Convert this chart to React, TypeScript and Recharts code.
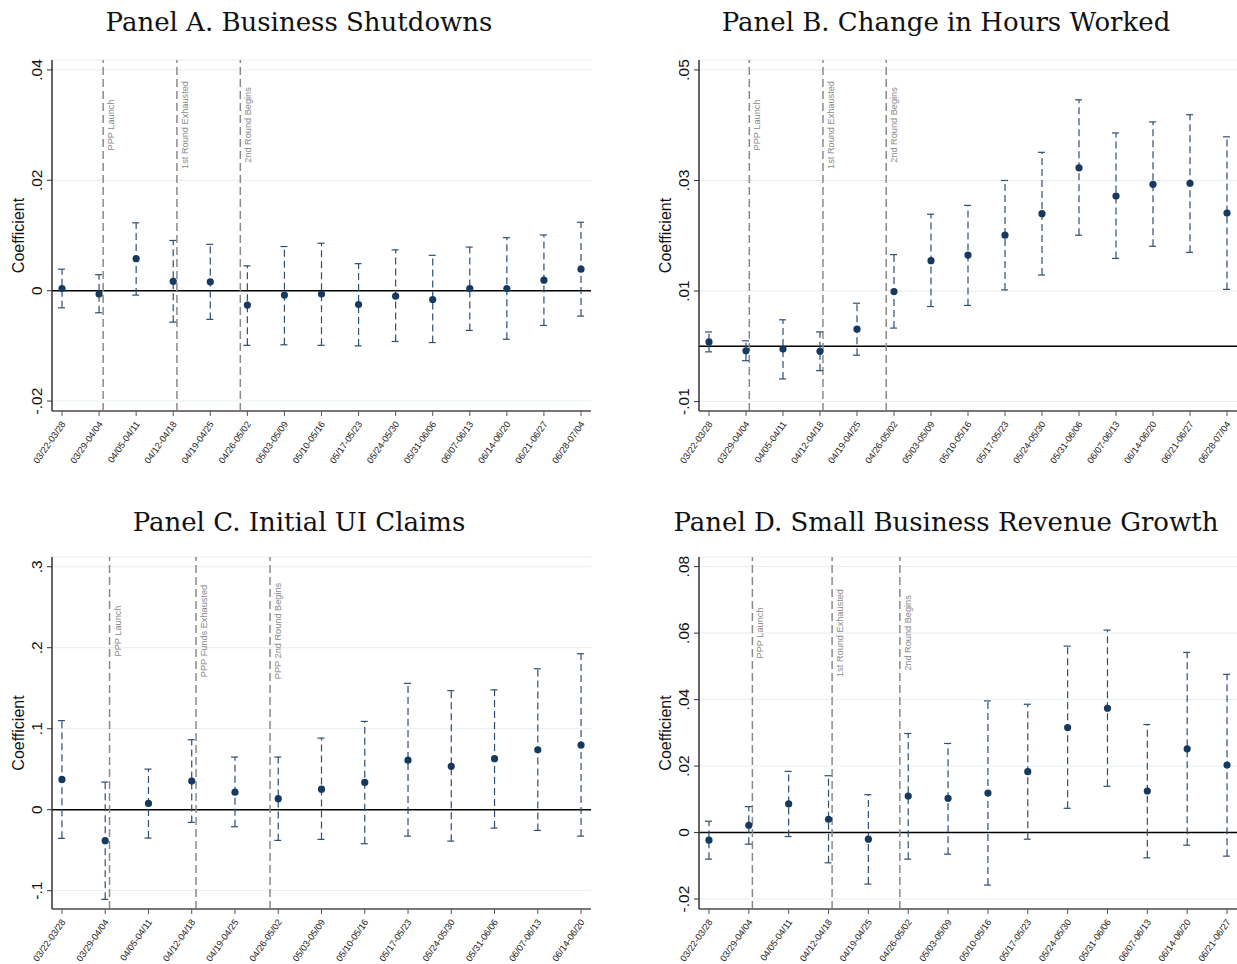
import React from "react";
import {
  ComposedChart,
  Scatter,
  ErrorBar,
  XAxis,
  YAxis,
  CartesianGrid,
  ReferenceLine
} from "recharts";

// week labels (x categories)
const weeks = [
  "03/22-03/28", "03/29-04/04", "04/05-04/11", "04/12-04/18", "04/19-04/25",
  "04/26-05/02", "05/03-05/09", "05/10-05/16", "05/17-05/23", "05/24-05/30",
  "05/31-06/06", "06/07-06/13", "06/14-06/20", "06/21-06/27", "06/28-07/04"
];

// Panel A. Business Shutdowns
const shutdownCoef = [0.0004, -0.0006, 0.0058, 0.0017, 0.0016, -0.0026, -0.0008, -0.0006, -0.0025, -0.0010, -0.0016, 0.0004, 0.0004, 0.0019, 0.0039];
const shutdownHi = [0.0039, 0.0029, 0.0123, 0.0091, 0.0084, 0.0045, 0.0080, 0.0086, 0.0049, 0.0074, 0.0064, 0.0079, 0.0096, 0.0101, 0.0124];
const shutdownLo = [-0.0031, -0.0040, -0.0008, -0.0057, -0.0052, -0.0099, -0.0098, -0.0099, -0.0100, -0.0092, -0.0094, -0.0072, -0.0088, -0.0063, -0.0046];

// Panel B. Change in Hours Worked
const hoursCoef = [0.0008, -0.0008, -0.0005, -0.0009, 0.0031, 0.0099, 0.0155, 0.0165, 0.0201, 0.0240, 0.0323, 0.0272, 0.0293, 0.0295, 0.0241];
const hoursHi = [0.0026, 0.0010, 0.0048, 0.0026, 0.0078, 0.0166, 0.0239, 0.0255, 0.0300, 0.0351, 0.0446, 0.0386, 0.0406, 0.0419, 0.0379];
const hoursLo = [-0.0010, -0.0026, -0.0059, -0.0044, -0.0016, 0.0033, 0.0072, 0.0074, 0.0102, 0.0129, 0.0201, 0.0159, 0.0181, 0.0170, 0.0103];

// Panel C. Initial UI Claims
const claimsCoef = [0.0374, -0.0383, 0.0078, 0.0353, 0.0217, 0.0136, 0.0254, 0.0337, 0.0612, 0.0535, 0.0630, 0.0740, 0.0798];
const claimsHi = [0.110, 0.0341, 0.0501, 0.0864, 0.065, 0.065, 0.0884, 0.109, 0.156, 0.147, 0.148, 0.174, 0.1926];
const claimsLo = [-0.0354, -0.1107, -0.0350, -0.0157, -0.0210, -0.0379, -0.0367, -0.0420, -0.0326, -0.0388, -0.0227, -0.0256, -0.0326];

// Panel D. Small Business Revenue Growth
const revenueCoef = [-0.0023, 0.0022, 0.0086, 0.0040, -0.0020, 0.0110, 0.0103, 0.0119, 0.0183, 0.0316, 0.0374, 0.0125, 0.0252, 0.0203];
const revenueHi = [0.0034, 0.0078, 0.0184, 0.0171, 0.0114, 0.0298, 0.0268, 0.0396, 0.0386, 0.0561, 0.0609, 0.0325, 0.0542, 0.0476];
const revenueLo = [-0.0080, -0.0035, -0.0012, -0.0091, -0.0155, -0.0080, -0.0065, -0.0158, -0.0020, 0.0073, 0.0139, -0.0076, -0.0038, -0.0071];

// y ticks
const ticksA = [-0.02, 0, 0.02, 0.04];
const ticksB = [-0.01, 0.01, 0.03, 0.05];
const ticksC = [-0.1, 0, 0.1, 0.2, 0.3];
const ticksD = [-0.02, 0, 0.02, 0.04, 0.06, 0.08];

// PPP event markers (week index)
const eventsA = [
  { x: 1.11, label: "PPP Launch" },
  { x: 3.1, label: "1st Round Exhausted" },
  { x: 4.81, label: "2nd Round Begins" }
];
const eventsB = [
  { x: 1.09, label: "PPP Launch" },
  { x: 3.08, label: "1st Round Exhausted" },
  { x: 4.79, label: "2nd Round Begins" }
];
const eventsC = [
  { x: 1.1, label: "PPP Launch" },
  { x: 3.1, label: "PPP Funds Exhausted" },
  { x: 4.81, label: "PPP 2nd Round Begins" }
];
const eventsD = [
  { x: 1.09, label: "PPP Launch" },
  { x: 3.09, label: "1st Round Exhausted" },
  { x: 4.79, label: "2nd Round Begins" }
];

const fmtY = (v: number) => (v === 0 ? "0" : String(v).replace("0.", "."));

const SANS = "'Liberation Sans', Arial, sans-serif";
const NAVY = "#163a5f";

interface PanelProps {
  title: string;
  coef: number[];
  lo: number[];
  hi: number[];
  yDomain: [number, number];
  yTicks: number[];
  events: { x: number; label: string }[];
  left: number;
  top: number;
  width: number;
  height: number;
  marginTop: number;
  marginRight: number;
  xAxisHeight: number;
  xPad: number;
  labelOffset: number;
}

function Panel({
  title, coef, lo, hi, yDomain, yTicks, events,
  left, top, width, height, marginTop, marginRight, xAxisHeight, xPad, labelOffset
}: PanelProps) {
  const rows = coef.map((c, i) => ({ x: i, y: c, err: [c - lo[i], hi[i] - c] }));
  const labels = weeks.slice(0, coef.length);
  const xTicks = labels.map((_, i) => i);

  return (
    <>
      <div
        style={{
          position: "absolute",
          left: left,
          top: top - 46,
          width: 598,
          textAlign: "center",
          fontFamily: "'DejaVu Serif', serif",
          fontSize: 26,
          color: "#111",
          lineHeight: "46px",
          whiteSpace: "nowrap"
        }}
      >
        {title}
      </div>
      <div style={{ position: "absolute", left, top }}>
        <ComposedChart
          width={width}
          height={height}
          margin={{ top: marginTop, right: marginRight, left: 0, bottom: 0 }}
        >
          <CartesianGrid vertical={false} stroke="#e4eef1" strokeWidth={1} />
          <XAxis
            dataKey="x"
            type="number"
            domain={[-xPad, coef.length - 1 + xPad]}
            allowDataOverflow
            ticks={xTicks}
            interval={0}
            height={xAxisHeight}
            tickSize={5}
            axisLine={{ stroke: "#777", strokeWidth: 2 }}
            tickLine={{ stroke: "#555", strokeWidth: 1 }}
            tick={(p: any) => (
              <text
                transform={`translate(${p.x + 4},${p.y + 6}) rotate(-55)`}
                textAnchor="end"
                fontFamily={SANS}
                fontSize={9.2}
                fill="#222"
              >
                {labels[p.payload.value]}
              </text>
            )}
          />
          <YAxis
            dataKey="y"
            type="number"
            width={52}
            domain={yDomain}
            allowDataOverflow
            ticks={yTicks}
            interval={0}
            tickSize={5}
            tickMargin={5}
            axisLine={{ stroke: "#333", strokeWidth: 1.5 }}
            tickLine={{ stroke: "#333", strokeWidth: 1 }}
            tick={(p: any) => (
              <text
                transform={`translate(${p.x},${p.y}) rotate(-90)`}
                textAnchor="middle"
                fontFamily={SANS}
                fontSize={15.5}
                fill="#111"
              >
                {fmtY(p.payload.value)}
              </text>
            )}
            label={{
              content: (p: any) => {
                const vb = p.viewBox || { x: 0, y: marginTop, height: 350 };
                return (
                  <text
                    transform={`translate(${vb.x + 23.5},${vb.y + vb.height / 2}) rotate(-90)`}
                    textAnchor="middle"
                    fontFamily={SANS}
                    fontSize={16}
                    fill="#111"
                  >
                    Coefficient
                  </text>
                );
              }
            }}
          />
          <ReferenceLine y={0} stroke="#000" strokeWidth={1.5} ifOverflow="extendDomain" />
          {events.map((e) => (
            <ReferenceLine
              key={e.label}
              x={e.x}
              stroke="#8a8a8a"
              strokeWidth={1.5}
              strokeDasharray="8 4"
              label={{
                content: (p: any) => {
                  const vb = p.viewBox || { x: 0, y: marginTop };
                  return (
                    <text
                      transform={`translate(${vb.x + 11},${marginTop + labelOffset}) rotate(-90)`}
                      textAnchor="middle"
                      fontFamily={SANS}
                      fontSize={9.2}
                      fill="#8a8a8a"
                    >
                      {e.label}
                    </text>
                  );
                }
              }}
            />
          ))}
          <Scatter
            data={rows}
            isAnimationActive={false}
            fill={NAVY}
            shape={(p: any) => <circle cx={p.cx} cy={p.cy} r={3.6} fill={NAVY} />}
          >
            <ErrorBar
              dataKey="err"
              direction="y"
              width={4}
              stroke="#2d4f74"
              strokeWidth={1.2}
              strokeDasharray="7 4"
              isAnimationActive={false}
            />
          </Scatter>
        </ComposedChart>
      </div>
    </>
  );
}

export default function App() {
  return (
    <div
      style={{
        position: "absolute",
        left: 0,
        top: 0,
        width: 1237,
        height: 964,
        background: "#fff",
        overflow: "hidden"
      }}
    >
      <Panel
        title="Panel A. Business Shutdowns"
        coef={shutdownCoef} lo={shutdownLo} hi={shutdownHi}
        yDomain={[-0.0218, 0.0418]} yTicks={ticksA} events={eventsA}
        left={0} top={45} width={618} height={430}
        marginTop={15} marginRight={27} xAxisHeight={64} xPad={0.27} labelOffset={65}
      />
      <Panel
        title="Panel B. Change in Hours Worked"
        coef={hoursCoef} lo={hoursLo} hi={hoursHi}
        yDomain={[-0.0117, 0.0518]} yTicks={ticksB} events={eventsB}
        left={647} top={45} width={590} height={430}
        marginTop={15} marginRight={0} xAxisHeight={64} xPad={0.27} labelOffset={65}
      />
      <Panel
        title="Panel C. Initial UI Claims"
        coef={claimsCoef} lo={claimsLo} hi={claimsHi}
        yDomain={[-0.1226, 0.312]} yTicks={ticksC} events={eventsC}
        left={0} top={545} width={618} height={419}
        marginTop={12} marginRight={27} xAxisHeight={55} xPad={0.23} labelOffset={74}
      />
      <Panel
        title="Panel D. Small Business Revenue Growth"
        coef={revenueCoef} lo={revenueLo} hi={revenueHi}
        yDomain={[-0.023, 0.0829]} yTicks={ticksD} events={eventsD}
        left={647} top={545} width={590} height={419}
        marginTop={12} marginRight={0} xAxisHeight={55} xPad={0.25} labelOffset={76}
      />
    </div>
  );
}
